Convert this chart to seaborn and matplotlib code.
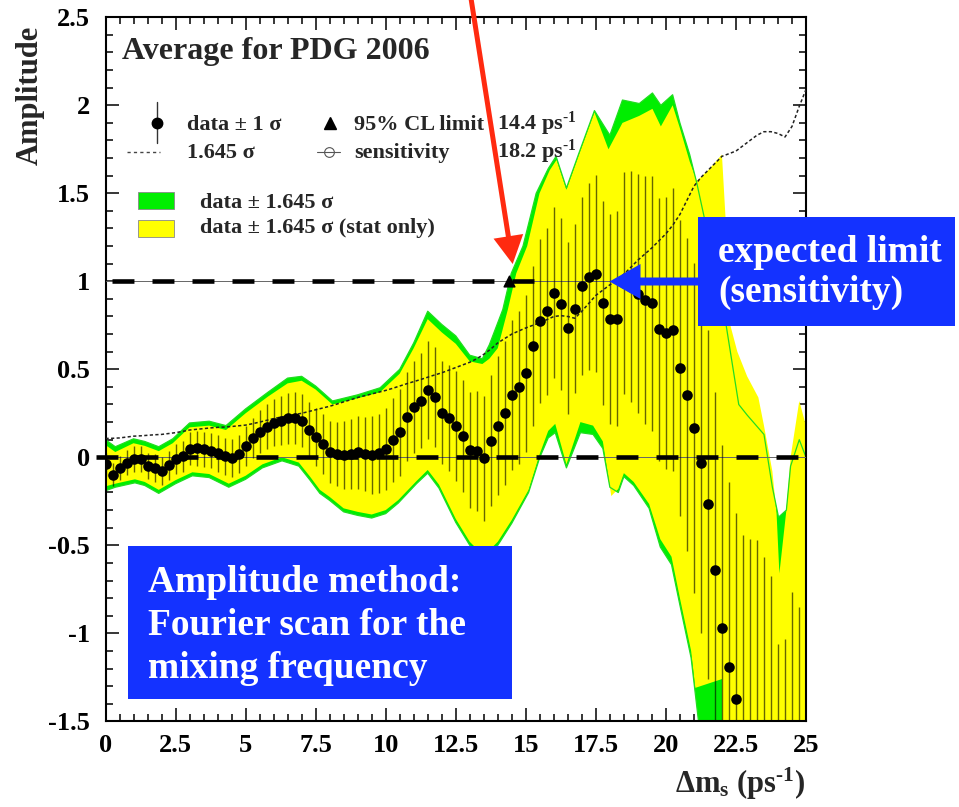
import numpy as np
import pandas as pd
import matplotlib
matplotlib.use("Agg")
import matplotlib.pyplot as plt
import matplotlib.transforms as mtransforms
from matplotlib.patches import Rectangle, FancyArrow
from matplotlib.lines import Line2D
from matplotlib.ticker import MultipleLocator, FuncFormatter
import seaborn as sns

# ---------------------------------------------------------------------------
# B_s oscillation amplitude scan, world average (PDG 2006)
# ---------------------------------------------------------------------------
dm = np.round(np.arange(0, 25.001, 0.25), 2)          # Delta m_s scan grid (ps^-1)

amplitude = [
    -0.04, -0.10, -0.06, -0.03, -0.01, -0.01, -0.05, -0.06, -0.08, -0.045,
    -0.01, 0.005, 0.048, 0.05, 0.045, 0.038, 0.022, 0.005, -0.003, 0.02,
    0.064, 0.11, 0.146, 0.174, 0.197, 0.208, 0.221, 0.221, 0.208, 0.155,
    0.117, 0.076, 0.032, 0.019, 0.013, 0.019, 0.028, 0.019, 0.013, 0.023,
    0.047, 0.098, 0.142, 0.231, 0.288, 0.322, 0.382, 0.341, 0.254, 0.221,
    0.178, 0.121, 0.042, 0.036, -0.005, 0.095, 0.18, 0.252, 0.356, 0.397,
    0.477, 0.633, 0.773, 0.829, 0.936, 0.872, 0.735, 0.843, 0.973, 1.026,
    1.042, 0.876, 0.786, 0.786, 0.99, 0.97, 0.93, 0.894, 0.875, 0.727,
    0.707, 0.725, 0.507, 0.356, 0.165, -0.032, -0.268, -0.642, -0.97, -1.19,
    -1.375, -1.52, -1.56, -1.58, -1.69, -1.80, -2.18, -2.14, -1.91, -2.06, -1.97,
]

# 1.645 x total uncertainty on the amplitude
sigma_1645 = [
    0.107, 0.108, 0.110, 0.115, 0.120, 0.122, 0.125, 0.128, 0.130, 0.135,
    0.140, 0.147, 0.155, 0.159, 0.163, 0.167, 0.170, 0.172, 0.175, 0.179,
    0.183, 0.191, 0.200, 0.210, 0.220, 0.228, 0.235, 0.243, 0.250, 0.260,
    0.270, 0.280, 0.290, 0.302, 0.315, 0.327, 0.340, 0.350, 0.360, 0.370,
    0.380, 0.392, 0.405, 0.418, 0.430, 0.442, 0.455, 0.468, 0.480, 0.495,
    0.510, 0.525, 0.540, 0.560, 0.585, 0.615, 0.650, 0.675, 0.700, 0.718,
    0.735, 0.750, 0.765, 0.782, 0.800, 0.805, 0.800, 0.790, 0.830, 0.875,
    0.920, 0.950, 0.980, 1.005, 1.040, 1.080, 1.120, 1.155, 1.190, 1.230,
    1.270, 1.320, 1.380, 1.460, 1.540, 1.590, 1.630, 1.670, 1.710, 1.725,
    1.740, 1.770, 1.800, 1.830, 1.850, 1.850, 1.840, 1.820, 1.880, 1.990, 2.090,
]

# data +- 1.645 sigma (total): upper and lower band edges
green_up_x = [0.0, 0.35, 1.0, 1.4, 1.9, 2.4, 3.0, 3.7, 4.3, 5.0, 5.8, 6.5, 7.0, 7.5,
              8.1, 9.0, 9.8, 10.5, 11.0, 11.5, 12.0, 12.5, 13.0, 13.45, 13.7, 14.18,
              14.48, 14.9, 15.37, 15.8, 16.08, 16.45, 16.9, 17.45, 18.0, 18.45, 19.05,
              19.52, 19.82, 20.24, 20.5, 20.85, 21.1, 22.0, 22.6, 22.9, 23.5, 23.8,
              24.02, 24.3, 24.45, 24.76, 25.0]
green_up = [0.10, 0.06, 0.105, 0.09, 0.06, 0.105, 0.195, 0.205, 0.18, 0.275, 0.37, 0.45,
            0.46, 0.405, 0.32, 0.355, 0.395, 0.50, 0.65, 0.83, 0.755, 0.69, 0.58, 0.56,
            0.64, 0.84, 1.045, 1.20, 1.50, 1.64, 1.71, 1.53, 1.73, 1.97, 1.83, 2.03,
            2.01, 2.07, 2.00, 2.06, 1.90, 1.72, 1.56, 0.90, 0.30, 0.24, 0.13, -0.17,
            -0.34, -0.30, -0.05, 0.10, 0.0]
green_lo_x = [0.0, 0.35, 1.05, 1.4, 1.9, 2.5, 3.1, 3.7, 4.4, 5.0, 5.6, 6.3, 6.9, 7.3,
              7.65, 8.0, 8.5, 9.0, 9.5, 10.0, 10.45, 11.1, 11.5, 11.9, 12.5, 13.0, 13.5,
              14.0, 14.5, 15.1, 15.5, 15.8, 16.05, 16.45, 16.95, 17.4, 17.75, 18.0,
              18.3, 18.5, 18.85, 19.4, 19.8, 20.2, 20.5, 20.9, 21.2, 22.0, 25.0]
green_lo = [-0.19, -0.17, -0.145, -0.16, -0.205, -0.15, -0.105, -0.115, -0.17, -0.125,
            -0.06, -0.02, -0.05, -0.13, -0.205, -0.245, -0.31, -0.33, -0.345, -0.32,
            -0.26, -0.15, -0.09, -0.175, -0.37, -0.50, -0.58, -0.50, -0.375, -0.20,
            0.0, 0.11, 0.14, -0.06, 0.14, 0.13, 0.05, -0.17, -0.20, -0.11, -0.16,
            -0.29, -0.51, -0.61, -0.84, -1.14, -1.55, -2.5, -3.0]

# data +- 1.645 sigma (statistical only)
yellow_up_x = [0.0, 0.35, 1.0, 1.4, 1.9, 2.4, 3.0, 3.7, 4.3, 5.0, 5.8, 6.5, 7.0, 7.5,
               8.1, 9.0, 9.8, 10.5, 11.0, 11.5, 12.0, 12.5, 13.0, 13.45, 13.7, 14.0,
               14.36, 14.66, 15.05, 15.49, 15.85, 16.1, 16.45, 16.9, 17.45, 17.95,
               18.45, 19.05, 19.52, 19.82, 20.24, 20.5, 20.85, 21.1, 21.5, 22.0, 22.15,
               22.3, 22.55, 22.9, 23.3, 23.5, 23.8, 23.95, 24.05, 24.3, 24.45, 24.76, 25.0]
yellow_up = [0.07, 0.03, 0.08, 0.065, 0.035, 0.08, 0.17, 0.18, 0.155, 0.25, 0.345, 0.42,
             0.435, 0.385, 0.30, 0.335, 0.37, 0.475, 0.62, 0.785, 0.71, 0.645, 0.545,
             0.53, 0.56, 0.62, 0.84, 1.045, 1.20, 1.50, 1.63, 1.69, 1.52, 1.72, 1.96,
             1.75, 1.90, 1.94, 1.98, 1.88, 2.00, 1.87, 1.68, 1.57, 1.63, 1.72, 1.30,
             0.75, 0.60, 0.46, 0.34, 0.18, -0.08, -0.32, -0.66, -0.30, 0.0, 0.32, 0.18]
yellow_lo_x = [0.0, 0.35, 1.05, 1.4, 1.9, 2.5, 3.1, 3.7, 4.4, 5.0, 5.6, 6.3, 6.9, 7.3,
               7.65, 8.0, 8.5, 9.0, 9.5, 10.0, 10.45, 11.1, 11.5, 11.9, 12.5, 13.0, 13.5,
               14.0, 14.5, 15.1, 15.5, 15.8, 16.05, 16.45, 16.95, 17.4, 17.75, 18.05,
               18.3, 18.5, 18.85, 19.4, 19.8, 20.2, 20.5, 20.9, 21.05, 22.0, 22.05, 25.0]
yellow_lo = [-0.165, -0.15, -0.125, -0.14, -0.185, -0.13, -0.085, -0.095, -0.15, -0.105,
             -0.04, 0.0, -0.03, -0.11, -0.185, -0.225, -0.29, -0.31, -0.325, -0.30,
             -0.243, -0.135, -0.072, -0.155, -0.35, -0.48, -0.56, -0.48, -0.356, -0.185,
             0.02, 0.15, 0.19, -0.04, 0.20, 0.18, 0.09, -0.22, -0.18, -0.09, -0.14,
             -0.265, -0.465, -0.565, -0.80, -1.10, -1.31, -1.26, -3.0, -3.0]

cl95_limit = 14.4       # ps^-1
sensitivity = 18.2      # ps^-1

df = pd.DataFrame({"dm": dm, "amp": amplitude, "s1645": sigma_1645})
df["sigma"] = df["s1645"] / 1.645

# ---------------------------------------------------------------------------
W, H = 959, 807
sns.set_theme(style="ticks")
plt.rcParams.update({
    "font.family": ["Liberation Serif", "DejaVu Serif"],
    "font.weight": "bold",
    "mathtext.fontset": "custom",
    "mathtext.rm": "Liberation Serif:bold",
    "mathtext.it": "Liberation Serif:bold",
    "mathtext.bf": "Liberation Serif:bold",
    "lines.scale_dashes": False,
    "axes.linewidth": 1.5,
    "axes.edgecolor": "black",
})

GREEN = "#00ee00"
YELLOW = "#ffff00"
BLUE = "#1432ff"
RED = "#ff2a10"
INV_PS = "ps$^{\\text{-1}}$"

fig = plt.figure(figsize=(W / 100, H / 100), dpi=100)
ax = fig.add_axes([105.5 / W, 1 - 721.3 / H, (806 - 105.5) / W, (721.3 - 17.3) / H])
# pixel coordinates measured from the top-left corner of the canvas
px = mtransforms.Affine2D().scale(1 / W, -1 / H).translate(0, 1) + fig.transFigure


def polygon(ux, uy, lx, ly):
    return (np.concatenate([ux, lx[::-1]]), np.concatenate([uy, ly[::-1]]))


gx, gy = polygon(green_up_x, green_up, green_lo_x, green_lo)
yx, yy = polygon(yellow_up_x, yellow_up, yellow_lo_x, yellow_lo)
ax.fill(gx, gy, color=GREEN, lw=0, zorder=1)
ax.fill(yx, yy, color=YELLOW, lw=0, zorder=2)
ax.plot(green_up_x, green_up, color="#22dd22", lw=0.9, zorder=2.5)
ax.plot(green_lo_x, green_lo, color="#22dd22", lw=0.9, zorder=2.5)

# thin reference lines at A = 0 and A = 1
ax.axhline(0, color="#666666", lw=0.7, zorder=3)
ax.axhline(1, color="#666666", lw=0.7, zorder=3)

# +-1 sigma error bars
ax.vlines(df["dm"], df["amp"] - df["sigma"], df["amp"] + df["sigma"],
          colors=[(0, 0, 0, 0.6)], lw=1.0, zorder=3.2)

# 1.645 sigma curve
sns.lineplot(data=df, x="dm", y="s1645", color="#222222", lw=1.1, ax=ax,
             estimator=None, sort=False, zorder=3.5)
ax.lines[-1].set_dashes([2.3, 1.7])

# thick dashed guides at A = 0 and A = 1
ax.plot([-0.34, 24.72], [0, 0], color="black", lw=3.3, dashes=(15.8, 13.0),
        dash_capstyle="butt", clip_on=False, zorder=3.8)
ax.plot([0.22, 15.35], [1, 1], color="black", lw=3.3, dashes=(15.8, 13.0),
        dash_capstyle="butt", zorder=3.8)

# measured amplitudes
sns.scatterplot(data=df, x="dm", y="amp", color="black", s=58, linewidth=0,
                ax=ax, zorder=5, legend=False)

# 95% CL limit marker
ax.scatter([cl95_limit], [1.0], marker="^", s=60, color="black", zorder=6)

ax.set_xlim(0, 25)
ax.set_ylim(-1.5, 2.5)
ax.set_xlabel("")
ax.set_ylabel("")
ax.xaxis.set_major_locator(MultipleLocator(2.5))
ax.xaxis.set_minor_locator(MultipleLocator(0.5))
ax.yaxis.set_major_locator(MultipleLocator(0.5))
ax.yaxis.set_minor_locator(MultipleLocator(0.1))
fmt = FuncFormatter(lambda v, _: f"{round(v, 2) + 0:g}")
ax.xaxis.set_major_formatter(fmt)
ax.yaxis.set_major_formatter(fmt)
ax.tick_params(which="both", direction="in", top=True, right=True,
               width=1.1, color="black", labelsize=19, labelcolor="black")
ax.tick_params(which="major", length=9.5)
ax.tick_params(which="minor", length=5)
ax.tick_params(axis="x", pad=9)
ax.tick_params(axis="y", pad=11)
for sp in ax.spines.values():
    sp.set_visible(True)
    sp.set_linewidth(1.5)

# axis titles
fig.text(30, 95, "Amplitude", transform=px, rotation=90, ha="center", va="center",
         fontsize=22)
fig.text(805, 793, "Δm$_\\mathregular{s}$ (" + INV_PS + ")", transform=px,
         ha="right", va="baseline", fontsize=22)

# title and legend
fig.text(122, 59, "Average for PDG 2006", transform=px, fontsize=23, va="baseline")

fig.add_artist(Line2D([156.7, 156.7], [102, 143], color="#333333", lw=1.0, transform=px))
fig.add_artist(Line2D([156.7], [123], marker="o", ms=7.5, color="black", lw=0,
                      transform=px))
fig.add_artist(Line2D([127, 160], [152, 152], color="#444444", lw=1.0,
                      dashes=[2.3, 2.3], transform=px))
fig.add_artist(Line2D([330], [123], marker="^", ms=8.5, color="black", lw=0,
                      transform=px))
fig.add_artist(Line2D([328.5], [152], marker="o", ms=7, mfc="white", mec="#555555",
                      mew=0.8, lw=0, transform=px))
fig.add_artist(Line2D([317, 340], [152, 152], color="#555555", lw=0.8, transform=px))
fig.add_artist(Rectangle((138, 192), 36, 17, facecolor=GREEN, edgecolor="#888888",
                         lw=0.6, transform=px))
fig.add_artist(Rectangle((138, 220), 36, 17, facecolor=YELLOW, edgecolor="#888888",
                         lw=0.6, transform=px))

leg_fs = 16
fig.text(187, 130, "data ± 1 σ", transform=px, fontsize=leg_fs, va="baseline")
fig.text(354, 130, "95% CL limit", transform=px, fontsize=leg_fs, va="baseline")
fig.text(497, 130, f"{cl95_limit:.1f} " + INV_PS, transform=px,
         fontsize=leg_fs, va="baseline")
fig.text(187, 158, "1.645 σ", transform=px, fontsize=leg_fs, va="baseline")
fig.text(354, 158, "sensitivity", transform=px, fontsize=leg_fs, va="baseline")
fig.text(497, 158, f"{sensitivity:.1f} " + INV_PS, transform=px,
         fontsize=leg_fs, va="baseline")
fig.text(200, 208, "data ± 1.645 σ", transform=px, fontsize=leg_fs, va="baseline")
fig.text(200, 233, "data ± 1.645 σ (stat only)", transform=px, fontsize=leg_fs,
         va="baseline")

# call-outs
fig.add_artist(FancyArrow(470, -8, 42.7, 272, width=5, head_width=30, head_length=28,
                          length_includes_head=True, color=RED, lw=0, transform=px,
                          zorder=10))
fig.add_artist(Rectangle((698, 217), 257, 109, facecolor=BLUE, lw=0, transform=px,
                         zorder=10))
fig.add_artist(FancyArrow(698, 281.5, -88.5, 0, width=8, head_width=35, head_length=31,
                          length_includes_head=True, color=BLUE, lw=0, transform=px,
                          zorder=10))
fig.text(718, 262, "expected limit", transform=px, color="white", fontsize=27,
         va="baseline", zorder=11)
fig.text(718, 302, "(sensitivity)", transform=px, color="white", fontsize=27,
         va="baseline", zorder=11)

fig.add_artist(Rectangle((128, 546), 384, 153, facecolor=BLUE, lw=0, transform=px,
                         zorder=10))
for line, base in zip(["Amplitude method:", "Fourier scan for the", "mixing frequency"],
                      [592, 635, 678]):
    fig.text(148, base, line, transform=px, color="white", fontsize=27, va="baseline",
             zorder=11)

fig.savefig("out.png", dpi=100)
